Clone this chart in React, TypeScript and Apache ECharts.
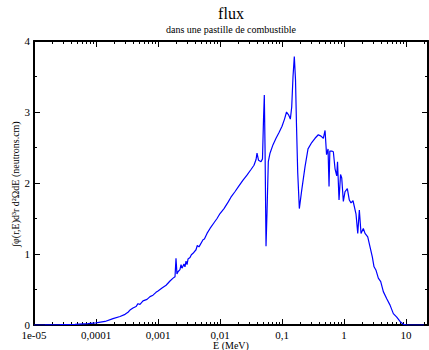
import React, { useEffect, useRef } from "react";
import * as echarts from "echarts";

const energy: number[] = [
  1e-5, 1.5e-5, 2.62e-5, 4.58e-5, 7.43e-5, 1e-4, 1.4e-4, 1.88e-4, 2.44e-4, 2.94e-4,
  3.28e-4, 3.53e-4, 3.95e-4, 4.42e-4, 4.75e-4, 5.12e-4, 5.73e-4, 6.65e-4, 7.43e-4, 8.3e-4,
  9.28e-4, 1e-3, 1.16e-3, 1.35e-3, 1.56e-3, 1.75e-3, 1.88e-3, 1.95e-3, 2.02e-3, 2.1e-3,
  2.26e-3, 2.35e-3, 2.44e-3, 2.62e-3, 2.72e-3, 2.83e-3, 2.94e-3, 3.05e-3, 3.28e-3, 3.45e-3,
  3.67e-3, 4.1e-3, 4.3e-3, 4.58e-3, 5.32e-3, 5.6e-3, 6.17e-3, 6.9e-3, 8.0e-3, 8.95e-3,
  0.01, 0.0116, 0.0135, 0.015, 0.0175, 0.0202, 0.0235, 0.0272, 0.0316, 0.0353,
  0.0381, 0.0395, 0.0418, 0.0458, 0.0484, 0.0503, 0.0518, 0.0532, 0.0552, 0.0573,
  0.0601, 0.064, 0.0716, 0.08, 0.0895, 0.1, 0.1097, 0.1182, 0.1274, 0.1362,
  0.1433, 0.1504, 0.1578, 0.165, 0.1713, 0.1792, 0.1902, 0.2078, 0.235, 0.2625,
  0.3013, 0.3404, 0.3846, 0.4253, 0.4634, 0.4941, 0.5224, 0.5523, 0.573, 0.5902,
  0.6334, 0.672, 0.7161, 0.7621, 0.7852, 0.8303, 0.8784, 0.9183, 0.9747, 1.038,
  1.13, 1.217, 1.296, 1.396, 1.561, 1.664, 1.765, 1.879, 2.047, 2.181,
  2.411, 2.625, 2.858, 3.046, 3.281, 3.573, 3.905, 4.302, 4.884, 5.521,
  6.24, 7.081, 8.0, 9.04, 10.25, 13.96, 19.5,
];

const flux: number[] = [
  0.0, 0.001, 0.004, 0.01, 0.02, 0.03, 0.05, 0.09, 0.12, 0.15,
  0.18, 0.21, 0.24, 0.26, 0.3, 0.29, 0.34, 0.36, 0.4, 0.42,
  0.46, 0.48, 0.52, 0.56, 0.62, 0.66, 0.68, 0.94, 0.72, 0.75,
  0.78, 0.85, 0.8, 0.86, 0.82, 0.9, 0.85, 0.93, 0.95, 0.99,
  1.01, 1.06, 1.12, 1.1, 1.2, 1.21, 1.29, 1.36, 1.44, 1.5,
  1.57, 1.64, 1.73, 1.8, 1.88, 1.96, 2.04, 2.11, 2.19, 2.25,
  2.33, 2.42, 2.32, 2.3, 2.34, 2.9, 3.24, 2.5, 1.11, 1.6,
  2.3, 2.42, 2.54, 2.63, 2.71, 2.8, 2.9, 3.0, 2.96, 2.9,
  3.07, 3.5, 3.78, 3.45, 2.8, 2.14, 1.64, 1.9, 2.23, 2.48,
  2.57, 2.63, 2.68, 2.66, 2.63, 2.74, 2.4, 2.48, 1.95, 2.45,
  2.45, 2.44, 2.2, 2.1, 2.3, 1.76, 2.12, 2.07, 1.74, 1.88,
  1.92, 1.76, 1.72, 1.75, 1.56, 1.29, 1.62, 1.29, 1.36, 1.29,
  1.24, 1.1, 0.96, 0.82, 0.77, 0.66, 0.61, 0.47, 0.37, 0.28,
  0.16, 0.11, 0.05, 0.01, 0.0, 0.0, 0.0,
];

const xMajorTicks: number[] = [1e-5, 1e-4, 1e-3, 1e-2, 1e-1, 1, 10];
const xTickLabels: string[] = ["1e-05", "0,0001", "0,001", "0,01", "0,1", "1", "10"];
const xMinorMultipliers: number[] = [2, 3, 4, 5, 6, 7, 8, 9];
const xMin = 1e-5;
const xMax = 22.6;

const titleText = "flux";
const subtitleText = "dans une pastille de combustible";
const xName = "E (MeV)";
const yName = "∫φ(r,E)d³r d²ΩdE (neutrons.cm)";

const FONT = "'Liberation Serif', 'DejaVu Serif', serif";

export default function App() {
  const ref = useRef<HTMLDivElement>(null);

  useEffect(() => {
    if (!ref.current) return;
    const chart = echarts.init(ref.current, null, { renderer: "svg" });

    const minorTicks: number[] = [];
    xMajorTicks.forEach((d) => {
      xMinorMultipliers.forEach((m) => {
        const v = d * m;
        if (v <= xMax) minorTicks.push(v);
      });
    });

    const labelFor = (v: number) => {
      const idx = xMajorTicks.findIndex((t) => Math.abs(Math.log10(t) - Math.log10(v)) < 1e-6);
      return idx >= 0 ? xTickLabels[idx] : "";
    };

    const lineStyle = { color: "#000", width: 2 };

    const xBase = (position: "top" | "bottom", major: boolean, labels: boolean) => ({
      type: "log" as const,
      logBase: 10,
      min: xMin,
      max: xMax,
      position,
      axisLine: { show: major, onZero: false, lineStyle },
      axisTick: {
        show: true,
        inside: true,
        length: major ? 6 : 3,
        customValues: major ? xMajorTicks : minorTicks,
        lineStyle: { color: "#000", width: 1 },
      },
      axisLabel: labels
        ? {
            show: true,
            customValues: xMajorTicks,
            formatter: (v: number) => labelFor(v),
            fontFamily: FONT,
            fontSize: 11,
            lineHeight: 11,
            color: "#000",
            margin: 4,
          }
        : { show: false },
      splitLine: { show: false },
      minorTick: { show: false },
    });

    const yBase = (position: "left" | "right", labels: boolean) => ({
      type: "value" as const,
      min: 0,
      max: 4,
      interval: 1,
      position,
      axisLine: { show: true, onZero: false, lineStyle },
      axisTick: { show: true, inside: true, length: 6, lineStyle: { color: "#000", width: 1 } },
      minorTick: { show: true, splitNumber: 2, length: 3, lineStyle: { color: "#000", width: 1 } },
      axisLabel: labels
        ? { show: true, fontFamily: FONT, fontSize: 11, lineHeight: 11, color: "#000", margin: 4 }
        : { show: false },
      splitLine: { show: false },
    });

    chart.setOption({
      animation: false,
      backgroundColor: "#fff",
      grid: { left: 34, right: 1, top: 41, bottom: 25, containLabel: false },
      xAxis: [
        xBase("bottom", true, true),
        xBase("bottom", false, false),
        xBase("top", true, false),
        xBase("top", false, false),
      ],
      yAxis: [yBase("left", true), yBase("right", false)],
      graphic: [
        {
          type: "text",
          x: 231,
          y: 13,
          style: {
            text: titleText,
            fontFamily: FONT,
            fontSize: 16,
            fill: "#000",
            align: "center",
            verticalAlign: "middle",
          },
        },
        {
          type: "text",
          x: 231,
          y: 29,
          style: {
            text: subtitleText,
            fontFamily: FONT,
            fontSize: 10,
            fill: "#000",
            align: "center",
            verticalAlign: "middle",
          },
        },
        {
          type: "text",
          x: 231,
          y: 345,
          style: {
            text: xName,
            fontFamily: FONT,
            fontSize: 10,
            fill: "#000",
            align: "center",
            verticalAlign: "middle",
          },
        },
        {
          type: "text",
          x: 15,
          y: 184,
          rotation: Math.PI / 2,
          style: {
            text: yName,
            fontFamily: FONT,
            fontSize: 10,
            fill: "#000",
            align: "center",
            verticalAlign: "middle",
          },
        },
      ],
      series: [
        {
          type: "line",
          xAxisIndex: 0,
          yAxisIndex: 0,
          data: energy.map((e, i) => [e, flux[i]]),
          showSymbol: false,
          symbol: "none",
          lineStyle: { color: "#0000ff", width: 1.2 },
          z: 1,
        },
      ],
    });

    return () => chart.dispose();
  }, []);

  return <div ref={ref} style={{ width: 429, height: 350, position: "absolute", left: 0, top: 0 }} />;
}
